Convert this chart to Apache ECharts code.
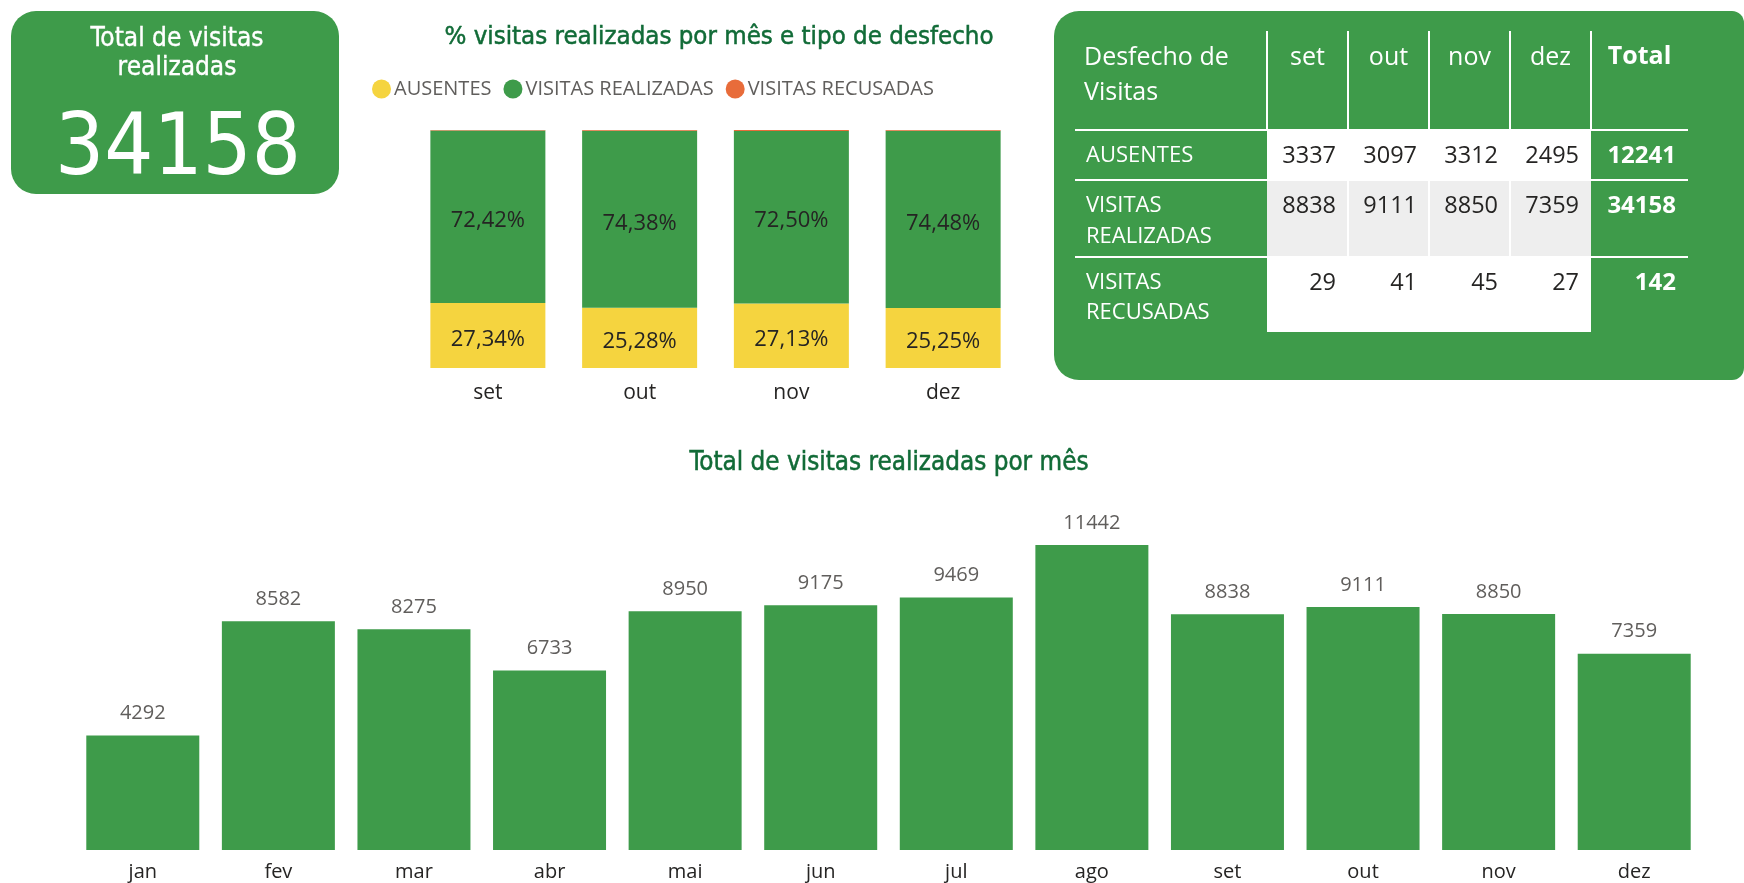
<!DOCTYPE html>
<html>
<head>
<meta charset="utf-8">
<script src="https://cdn.jsdelivr.net/npm/echarts@6/dist/echarts.min.js"></script>
<style>
html,body{margin:0;padding:0;background:#fff;}
#c{width:1744px;height:883px;}
</style>
</head>
<body>
<div id="c"></div>
<script>
// ---- data ----
const months4 = ['set', 'out', 'nov', 'dez'];
const ausentes = [3337, 3097, 3312, 2495];
const realizadas = [8838, 9111, 8850, 7359];
const recusadas = [29, 41, 45, 27];
const rowLabels = [['AUSENTES'], ['VISITAS', 'REALIZADAS'], ['VISITAS', 'RECUSADAS']];
const months12 = ['jan', 'fev', 'mar', 'abr', 'mai', 'jun', 'jul', 'ago', 'set', 'out', 'nov', 'dez'];
const monthlyVisits = [4292, 8582, 8275, 6733, 8950, 9175, 9469, 11442, 8838, 9111, 8850, 7359];

// ---- derived ----
const sum = a => a.reduce((s, v) => s + v, 0);
const monthTotals = months4.map((m, i) => ausentes[i] + realizadas[i] + recusadas[i]);
const pct = arr => arr.map((v, i) => v / monthTotals[i] * 100);
const rows = [ausentes, realizadas, recusadas];
const totalRealizadas = sum(realizadas);

const GREEN = '#3E9B4A';
const YELLOW = '#F5D43F';
const ORANGE = '#E86C3A';
const TITLE = '#116B37';
const SANS = '"Open Sans", "Noto Sans", sans-serif';
const DIN = '"DejaVu Sans Condensed", "DejaVu Sans", sans-serif';

function txt(text, x, y, font, fill, align, valign, stroke) {
  const st = {
    text: text, x: x, y: y, font: font, fill: fill,
    align: align || 'left', textAlign: align || 'left',
    verticalAlign: valign || 'middle', textVerticalAlign: valign || 'middle'
  };
  if (stroke) { st.stroke = fill; st.lineWidth = stroke; }
  return { type: 'text', z: 10, style: st };
}

// ---- graphics: KPI card, titles, table ----
const g = [];
g.push({ type: 'rect', z: 1, shape: { x: 11, y: 11, width: 328, height: 183, r: 25 }, style: { fill: GREEN } });
g.push(txt('Total de visitas', 177, 39, '26px ' + DIN, '#fff', 'center', 'middle', 0.4));
g.push(txt('realizadas', 177, 68, '26px ' + DIN, '#fff', 'center', 'middle', 0.4));
g.push(txt(String(totalRealizadas), 178, 152, '86px ' + DIN, '#fff', 'center'));

g.push(txt('% visitas realizadas por mês e tipo de desfecho', 719, 37, '25.6px ' + DIN, TITLE, 'center', 'middle', 0.5));
g.push(txt('Total de visitas realizadas por mês', 889, 463, '25.8px ' + DIN, TITLE, 'center', 'middle', 0.5));

// table card
g.push({ type: 'rect', z: 1, shape: { x: 1054, y: 11, width: 690, height: 369, r: [25, 12, 12, 25] }, style: { fill: GREEN } });
const colB = [1267, 1348, 1429, 1510, 1591, 1688];
const rowTop = [130, 180, 257];
const rowBottom = [180, 257, 332];
const rowMid = [156, 206, 283];
const rowSecond = [null, 237, 313];
// white data area
g.push({ type: 'rect', z: 2, shape: { x: colB[0], y: 130, width: colB[4] - colB[0], height: 332 - 130 }, style: { fill: '#fff' } });
// gray middle row
g.push({ type: 'rect', z: 3, shape: { x: colB[0], y: rowTop[1], width: colB[4] - colB[0], height: rowBottom[1] - rowTop[1] }, style: { fill: '#EEEEEE' } });
// vertical separators
for (let i = 0; i <= 4; i++) {
  g.push({ type: 'line', z: 4, shape: { x1: colB[i], y1: 31, x2: colB[i], y2: 130 }, style: { stroke: '#fff', lineWidth: 2 } });
  if (i > 0 && i < 4) {
    g.push({ type: 'line', z: 4, shape: { x1: colB[i], y1: rowTop[1], x2: colB[i], y2: rowBottom[1] }, style: { stroke: '#fff', lineWidth: 2 } });
  }
}
// horizontal lines
rowTop.forEach(y => {
  g.push({ type: 'line', z: 4, shape: { x1: 1075, y1: y, x2: colB[5], y2: y }, style: { stroke: '#fff', lineWidth: 2 } });
});
// header
g.push(txt('Desfecho de', 1084, 58, '25px ' + SANS, '#fff'));
g.push(txt('Visitas', 1084, 93, '25px ' + SANS, '#fff'));
months4.forEach((m, i) => {
  g.push(txt(m, (colB[i] + colB[i + 1]) / 2, 58, '25px ' + SANS, '#fff', 'center'));
});
g.push(txt('Total', (colB[4] + colB[5]) / 2, 57, 'bold 25px ' + SANS, '#fff', 'center'));
// rows
rows.forEach((r, ri) => {
  g.push(txt(rowLabels[ri][0], 1086, rowMid[ri], '22px ' + SANS, '#fff'));
  if (rowLabels[ri][1]) g.push(txt(rowLabels[ri][1], 1086, rowSecond[ri], '22px ' + SANS, '#fff'));
  r.forEach((v, ci) => {
    g.push(txt(String(v), colB[ci + 1] - 12, rowMid[ri], '23.5px ' + SANS, '#252423', 'right'));
  });
  g.push(txt(String(sum(r)), 1676, rowMid[ri], 'bold 24px ' + SANS, '#fff', 'right'));
});

const pctLabel = {
  show: true, position: 'inside', offset: [0, 4], color: '#252423', fontFamily: SANS, fontSize: 22,
  formatter: p => p.value.toFixed(2).replace('.', ',') + '%'
};

const chart = echarts.init(document.getElementById('c'), null, { renderer: 'canvas' });
chart.setOption({
  animation: false,
  backgroundColor: '#fff',
  graphic: { elements: g },
  legend: {
    left: 367, top: 74, itemWidth: 19, itemHeight: 19, itemGap: 12, icon: 'circle',
    textStyle: { fontFamily: SANS, fontSize: 20, color: '#605E5C', padding: [0, 0, 0, -2] },
    data: ['AUSENTES', 'VISITAS REALIZADAS', 'VISITAS RECUSADAS']
  },
  grid: [
    { left: 412, width: 607, top: 130, height: 238 },
    { left: 75, width: 1627, top: 530, height: 320 }
  ],
  xAxis: [
    {
      gridIndex: 0, type: 'category', data: months4,
      axisLine: { show: false }, axisTick: { show: false },
      axisLabel: { color: '#252423', fontFamily: SANS, fontSize: 21, margin: 15 }
    },
    {
      gridIndex: 1, type: 'category', data: months12,
      axisLine: { show: false }, axisTick: { show: false },
      axisLabel: { color: '#252423', fontFamily: SANS, fontSize: 20, margin: 12 }
    }
  ],
  yAxis: [
    { gridIndex: 0, type: 'value', min: 0, max: 100, show: false, splitLine: { show: false } },
    { gridIndex: 1, type: 'value', min: 0, max: 12000, show: false, splitLine: { show: false } }
  ],
  series: [
    {
      name: 'AUSENTES', type: 'bar', stack: 'p', xAxisIndex: 0, yAxisIndex: 0,
      barWidth: 115, itemStyle: { color: YELLOW }, data: pct(ausentes), label: pctLabel
    },
    {
      name: 'VISITAS REALIZADAS', type: 'bar', stack: 'p', xAxisIndex: 0, yAxisIndex: 0,
      barWidth: 115, itemStyle: { color: GREEN }, data: pct(realizadas), label: pctLabel
    },
    {
      name: 'VISITAS RECUSADAS', type: 'bar', stack: 'p', xAxisIndex: 0, yAxisIndex: 0,
      barWidth: 115, itemStyle: { color: ORANGE }, data: pct(recusadas), label: { show: false }
    },
    {
      name: 'Total', type: 'bar', xAxisIndex: 1, yAxisIndex: 1,
      barWidth: 113, itemStyle: { color: GREEN }, data: monthlyVisits,
      label: { show: true, position: 'top', distance: 12, color: '#605E5C', fontFamily: SANS, fontSize: 20 }
    }
  ]
});
</script>
</body>
</html>
